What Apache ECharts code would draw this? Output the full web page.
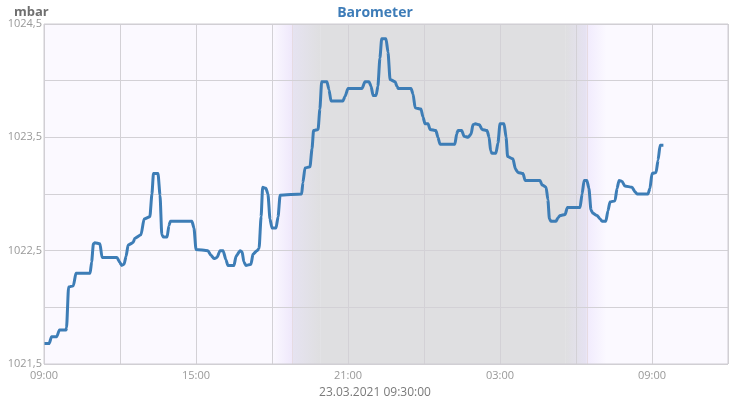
<!DOCTYPE html>
<html>
<head>
<meta charset="utf-8">
<script src="https://cdn.jsdelivr.net/npm/echarts@6/dist/echarts.min.js"></script>
<style>
  html, body { margin: 0; padding: 0; background: #fff; }
  #chart { width: 750px; height: 400px; }
</style>
</head>
<body>
<div id="chart"></div>
<script>
// Stunden seit 23.03. 09:00
var hours = [
  0.00, 0.20, 0.30, 0.50, 0.61, 0.87, 0.89, 0.97, 1.16, 1.26,
  1.82, 1.88, 1.95, 2.01, 2.21, 2.29, 2.88, 2.98, 3.07, 3.16,
  3.24, 3.32, 3.51, 3.59, 3.83, 3.95, 4.18, 4.26, 4.32, 4.50,
  4.58, 4.65, 4.72, 4.86, 4.93, 4.99, 5.84, 5.92, 6.00, 6.47,
  6.59, 6.71, 6.83, 6.95, 7.07, 7.18, 7.26, 7.50, 7.58, 7.74,
  7.82, 7.89, 7.97, 8.17, 8.25, 8.41, 8.49, 8.57, 8.63, 8.76,
  8.84, 8.92, 9.00, 9.16, 9.24, 9.32, 10.17, 10.22, 10.30, 10.50,
  10.58, 10.64, 10.82, 10.89, 10.96, 11.17, 11.25, 11.33, 11.80, 11.88,
  12.00, 12.55, 12.67, 12.83, 12.91, 12.99, 13.11, 13.18, 13.26, 13.33,
  13.50, 13.58, 13.66, 13.86, 13.93, 13.99, 14.49, 14.57, 14.65, 14.88,
  14.96, 15.04, 15.16, 15.24, 15.47, 15.55, 15.63, 16.22, 16.29, 16.34,
  16.49, 16.58, 16.74, 16.86, 16.93, 17.03, 17.19, 17.29, 17.49, 17.57,
  17.63, 17.68, 17.84, 17.92, 18.00, 18.16, 18.24, 18.30, 18.51, 18.61,
  18.71, 18.91, 18.99, 19.58, 19.66, 19.82, 19.89, 19.95, 20.01, 20.21,
  20.29, 20.37, 20.57, 20.66, 21.16, 21.24, 21.32, 21.43, 21.51, 21.59,
  21.67, 21.83, 21.95, 22.03, 22.18, 22.26, 22.34, 22.54, 22.62, 22.70,
  22.82, 22.93, 23.21, 23.33, 23.41, 23.84, 23.92, 24.00, 24.16, 24.24,
  24.32, 24.45
];

var pressure = [
  1021.68, 1021.68, 1021.74, 1021.74, 1021.80, 1021.80, 1021.82, 1022.18, 1022.19, 1022.30,
  1022.30, 1022.40, 1022.56, 1022.57, 1022.56, 1022.44, 1022.44, 1022.40, 1022.37, 1022.38,
  1022.45, 1022.55, 1022.57, 1022.61, 1022.64, 1022.78, 1022.80, 1023.00, 1023.18, 1023.18,
  1022.99, 1022.64, 1022.62, 1022.62, 1022.72, 1022.76, 1022.76, 1022.70, 1022.51, 1022.50,
  1022.46, 1022.43, 1022.44, 1022.50, 1022.50, 1022.42, 1022.37, 1022.37, 1022.45, 1022.50,
  1022.49, 1022.40, 1022.37, 1022.38, 1022.47, 1022.50, 1022.52, 1022.80, 1023.06, 1023.05,
  1023.00, 1022.78, 1022.70, 1022.70, 1022.80, 1022.99, 1023.00, 1023.10, 1023.23, 1023.24,
  1023.40, 1023.56, 1023.57, 1023.75, 1023.99, 1023.99, 1023.92, 1023.82, 1023.82, 1023.86,
  1023.93, 1023.93, 1023.99, 1023.99, 1023.95, 1023.87, 1023.87, 1023.95, 1024.20, 1024.37,
  1024.37, 1024.25, 1024.01, 1023.99, 1023.95, 1023.93, 1023.93, 1023.88, 1023.76, 1023.75,
  1023.68, 1023.62, 1023.62, 1023.57, 1023.56, 1023.50, 1023.44, 1023.44, 1023.53, 1023.56,
  1023.56, 1023.51, 1023.50, 1023.53, 1023.61, 1023.62, 1023.61, 1023.57, 1023.56, 1023.50,
  1023.38, 1023.36, 1023.36, 1023.45, 1023.62, 1023.62, 1023.50, 1023.33, 1023.31, 1023.22,
  1023.19, 1023.18, 1023.12, 1023.12, 1023.08, 1023.06, 1022.95, 1022.78, 1022.76, 1022.76,
  1022.79, 1022.81, 1022.82, 1022.88, 1022.88, 1023.00, 1023.12, 1023.12, 1023.05, 1022.86,
  1022.83, 1022.81, 1022.78, 1022.76, 1022.76, 1022.85, 1022.93, 1022.94, 1023.05, 1023.12,
  1023.11, 1023.07, 1023.06, 1023.02, 1023.00, 1023.00, 1023.05, 1023.18, 1023.19, 1023.30,
  1023.43, 1023.43
];

// Dämmerung / Nacht (Stunden seit 09:00)
var duskStart = 9.0, sunset = 9.79, nightStart = 10.9;
var nightEnd = 20.6, sunrise = 21.43, dawnEnd = 22.2;

var xMin = 0, xMax = 27, xStep = 3;
var yMin = 1021.5, yMax = 1024.5, yStep = 0.5;

var startHour = 9;
var footerText = '23.03.2021 09:30:00';

var points = [];
for (var i = 0; i < hours.length; i++) {
    points.push([hours[i], pressure[i]]);
}

function grad(c1, c2) {
    return new echarts.graphic.LinearGradient(0, 0, 1, 0, [
        { offset: 0, color: c1 },
        { offset: 1, color: c2 }
    ]);
}

var chart = echarts.init(document.getElementById('chart'));

var option = {
    animation: false,
    textStyle: { fontFamily: '"Open Sans", sans-serif' },
    title: [{
        text: 'Barometer',
        left: 'center',
        top: 1,
        textStyle: { color: '#3d7cb8', fontSize: 14, fontWeight: 'bold' }
    }, {
        text: 'mbar',
        left: 9,
        top: 1,
        textStyle: { color: '#6f6f6f', fontSize: 13, fontWeight: 'bold' }
    }, {
        text: footerText,
        left: 'center',
        top: 382,
        textStyle: { color: '#7a7a7a', fontSize: 12, fontWeight: 'normal' }
    }],
    grid: {
        left: 44, right: 22, top: 24, bottom: 36,
        show: true,
        z: 5,
        backgroundColor: 'transparent',
        borderColor: '#cfcdd2',
        borderWidth: 1
    },
    xAxis: {
        type: 'value',
        min: xMin, max: xMax, interval: xStep,
        z: 2,
        axisLine: { show: false },
        axisTick: { show: false },
        splitLine: { lineStyle: { color: '#d3d1d6' } },
        axisLabel: {
            color: '#999',
            fontSize: 11,
            margin: 6,
            formatter: function (v) {
                if (v % 6 !== 0) return '';
                var h = (startHour + v) % 24;
                return (h < 10 ? '0' : '') + h + ':00';
            }
        }
    },
    yAxis: {
        type: 'value',
        min: yMin, max: yMax, interval: yStep,
        z: 2,
        axisLine: { show: false },
        axisTick: { show: false },
        splitLine: { lineStyle: { color: '#d3d1d6' } },
        axisLabel: {
            color: '#999',
            fontSize: 11,
            margin: 2,
            formatter: function (v) {
                var r = Math.abs(((v - yMin) % 1));
                if (r > 0.01 && r < 0.99) return '';
                return v.toFixed(1).replace('.', ',');
            }
        }
    },
    series: [{
        // Hintergrund + Nachtschattierung
        type: 'line',
        data: points,
        z: 0,
        silent: true,
        symbol: 'none',
        lineStyle: { opacity: 0 },
        markArea: {
            silent: true,
            z: 0,
            data: [
                [{ xAxis: xMin, itemStyle: { color: '#fbf9ff' } }, { xAxis: xMax }],
                [{ xAxis: duskStart, itemStyle: { color: grad('#fbf9ff', '#efe8fb') } }, { xAxis: sunset }],
                [{ xAxis: sunset, itemStyle: { color: grad('#e6e3f1', '#dfdfe1') } }, { xAxis: nightStart }],
                [{ xAxis: nightStart, itemStyle: { color: '#dfdfe1' } }, { xAxis: nightEnd }],
                [{ xAxis: nightEnd, itemStyle: { color: grad('#dfdfe1', '#e6e2f3') } }, { xAxis: sunrise }],
                [{ xAxis: sunrise, itemStyle: { color: grad('#f1ebfd', '#fbf9ff') } }, { xAxis: dawnEnd }]
            ]
        },
        markLine: {
            silent: true,
            z: 1,
            symbol: 'none',
            label: { show: false },
            lineStyle: { color: '#e6dbe2', width: 1, type: 'solid' },
            data: [{ xAxis: sunset }, { xAxis: sunrise }]
        }
    }, {
        name: 'Luftdruck',
        type: 'line',
        data: points,
        z: 3,
        symbol: 'none',
        smooth: 0.2,
        smoothMonotone: 'x',
        lineStyle: { color: '#3d7db6', width: 3 }
    }]
};

chart.setOption(option);
</script>
</body>
</html>
